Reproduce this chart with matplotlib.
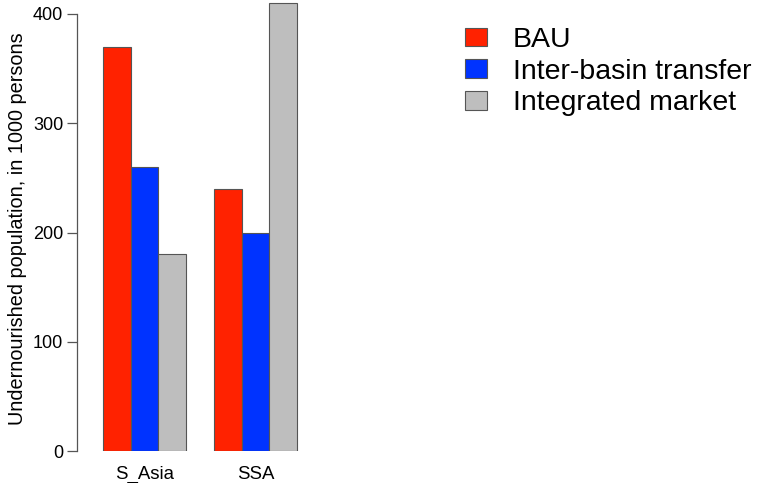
import matplotlib
matplotlib.use("Agg")
import matplotlib.pyplot as plt
from matplotlib.patches import Patch
import numpy as np

plt.rcParams['font.family'] = ['Liberation Sans', 'DejaVu Sans']

regions = ["S_Asia", "SSA"]
scenarios = ["BAU", "Inter-basin transfer", "Integrated market"]
values = {
    "BAU": [370, 240],
    "Inter-basin transfer": [260, 200],
    "Integrated market": [180, 410],
}
colors = ["#FF2200", "#0033FF", "#BEBEBE"]
yticks = [0, 100, 200, 300, 400]

W, H = 757, 483
fig = plt.figure(figsize=(W / 100, H / 100), dpi=100)
ax_left, ax_right, ax_bottom, ax_top = 77, 740, 451, 0
ax = fig.add_axes([ax_left / W, 1 - ax_bottom / H, (ax_right - ax_left) / W, (ax_bottom - ax_top) / H])

bar_px = 27.7
px_per_unit = 109.25 / 100
x0 = 1 - 26 / bar_px
ax.set_xlim(x0, x0 + (ax_right - ax_left) / bar_px)
ax.set_ylim(0, (ax_bottom - ax_top) / px_per_unit)

nser = len(scenarios)
group_starts = [1 + g * (nser + 1) for g in range(len(regions))]
for i, s in enumerate(scenarios):
    xs = [gs + i for gs in group_starts]
    ax.bar(xs, values[s], width=1.0, align='edge', color=colors[i],
           edgecolor='#555555', linewidth=0.8, clip_on=True)

centers = [gs + nser / 2 for gs in group_starts]
ax.set_xticks(centers)
ax.set_xticklabels(regions, fontsize=13.4)
ax.tick_params(axis='x', length=0, pad=11)

ax.set_yticks(yticks)
ax.set_yticklabels([str(t) for t in yticks], fontsize=13)
ax.tick_params(axis='y', length=7, width=0.9, color='#555555', pad=3)

for sp in ['top', 'right', 'bottom']:
    ax.spines[sp].set_visible(False)
ax.spines['left'].set_bounds(0, 400)
ax.spines['left'].set_color('#555555')
ax.spines['left'].set_linewidth(0.9)

fig.text(18 / W, 1 - 229 / H, "Undernourished population, in 1000 persons",
         rotation=90, ha='center', va='center', fontsize=14.3)

handles = [Patch(facecolor=colors[i], edgecolor='#555555', linewidth=0.8) for i in range(nser)]
leg = fig.legend(handles, scenarios, loc='upper left', bbox_to_anchor=(465 / W, 1 - 27 / H),
                 frameon=False, fontsize=20.5, handlelength=0.77, handleheight=0.63,
                 handletextpad=0.9, labelspacing=0.2, borderaxespad=0, borderpad=0)

fig.savefig("out.png", dpi=100)
